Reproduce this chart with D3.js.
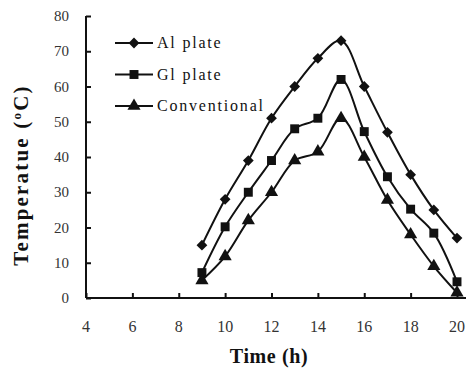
<!DOCTYPE html>
<html>
<head>
<meta charset="utf-8">
<script src="https://cdn.jsdelivr.net/npm/d3@7"></script>
<style>
  body { margin: 0; background: #fff; }
  text { font-family: "Liberation Serif", "Times New Roman", serif; }
</style>
</head>
<body>
<div id="chart"></div>
<script>
// Horas y temperaturas
const hours = [9, 10, 11, 12, 13, 14, 15, 16, 17, 18, 19, 20];
const alPlate = [15, 28, 39, 51, 60, 68, 73, 60, 47, 35, 25, 17];
const glPlate = [7.2, 20.2, 30, 39, 48, 51, 62, 47.2, 34.4, 25.2, 18.4, 4.6];
const conventional = [5, 11.8, 22, 30, 39, 41.5, 51, 40, 27.8, 18, 9, 1.5];
const seriesNames = ['Al plate', 'Gl plate', 'Conventional'];
const xTicks = [4, 6, 8, 10, 12, 14, 16, 18, 20];
const yTicks = [0, 10, 20, 30, 40, 50, 60, 70, 80];

const width = 468;
const height = 368;
const ink = '#111';

const svg = d3.select('#chart')
  .append('svg')
  .attr('width', width)
  .attr('height', height);

const x = d3.scaleLinear().domain([4, 20]).range([86, 457]);
const y = d3.scaleLinear().domain([0, 80]).range([298, 16]);

// Ejes con marcas hacia dentro
const xAxis = svg.append('g')
  .attr('transform', `translate(0,${y(0)})`)
  .call(d3.axisTop(x).tickValues(xTicks).tickSize(5).tickFormat(''));
xAxis.select('.domain').attr('d', `M${x(4)},0H466`);

const yAxis = svg.append('g')
  .attr('transform', `translate(${x(4)},0)`)
  .call(d3.axisRight(y).tickValues(yTicks).tickSize(5).tickFormat(''));
yAxis.select('.domain').attr('d', `M0,${y(80)}V${y(0)}`);

svg.selectAll('.domain, .tick line')
  .attr('stroke', ink)
  .attr('stroke-width', 2);

// Etiquetas de las marcas
svg.selectAll('.xlabel')
  .data(xTicks)
  .enter().append('text')
  .attr('x', d => x(d))
  .attr('y', 332)
  .attr('text-anchor', 'middle')
  .attr('fill', '#333')
  .style('font-size', '16px')
  .text(d => d);

svg.selectAll('.ylabel')
  .data(yTicks)
  .enter().append('text')
  .attr('x', 69)
  .attr('y', d => y(d) + 5)
  .attr('text-anchor', 'end')
  .attr('fill', '#333')
  .style('font-size', '15px')
  .text(d => d);

// Titulos de ejes
svg.append('text')
  .attr('x', 269)
  .attr('y', 363)
  .attr('text-anchor', 'middle')
  .attr('fill', ink)
  .style('font-size', '20px')
  .style('font-weight', 'bold')
  .style('letter-spacing', '0.6px')
  .text('Time (h)');

const yTitle = svg.append('text')
  .attr('transform', 'translate(28,175) rotate(-90)')
  .attr('text-anchor', 'middle')
  .attr('fill', ink)
  .style('font-size', '21px')
  .style('font-weight', 'bold')
  .style('letter-spacing', '2.2px');
yTitle.append('tspan').text('Temperatue (');
yTitle.append('tspan').attr('dy', -7).style('font-size', '13px').text('o');
yTitle.append('tspan').attr('dy', 7).text('C)');

// Series
const allSeries = [alPlate, glPlate, conventional];
const symbols = [
  d3.symbol().type(d3.symbolSquare).size(58),
  d3.symbol().type(d3.symbolSquare).size(80),
  d3.symbol().type(d3.symbolTriangle).size(75)
];
const rotations = [45, 0, 0];

const line = d3.line()
  .x(d => x(d[0]))
  .y(d => y(d[1]))
  .curve(d3.curveCatmullRom.alpha(0.5));

allSeries.forEach((vals, i) => {
  const pts = hours.map((h, j) => [h, vals[j]]);
  svg.append('path')
    .attr('d', line(pts))
    .attr('fill', 'none')
    .attr('stroke', ink)
    .attr('stroke-width', 2);
  svg.selectAll('.m' + i)
    .data(pts)
    .enter().append('path')
    .attr('d', symbols[i])
    .attr('transform', d => `translate(${x(d[0])},${y(d[1])}) rotate(${rotations[i]})`)
    .attr('fill', ink);
});

// Leyenda
const legend = svg.append('g');
seriesNames.forEach((name, i) => {
  const ly = 43 + i * 31.5;
  legend.append('line')
    .attr('x1', 115).attr('x2', 153)
    .attr('y1', ly).attr('y2', ly)
    .attr('stroke', ink)
    .attr('stroke-width', 2);
  legend.append('path')
    .attr('d', symbols[i])
    .attr('transform', `translate(134,${ly}) rotate(${rotations[i]})`)
    .attr('fill', ink);
  legend.append('text')
    .attr('x', 157)
    .attr('y', ly + 5)
    .attr('fill', ink)
    .style('font-size', '16px')
    .style('letter-spacing', '1.8px')
    .text(name);
});
</script>
</body>
</html>
